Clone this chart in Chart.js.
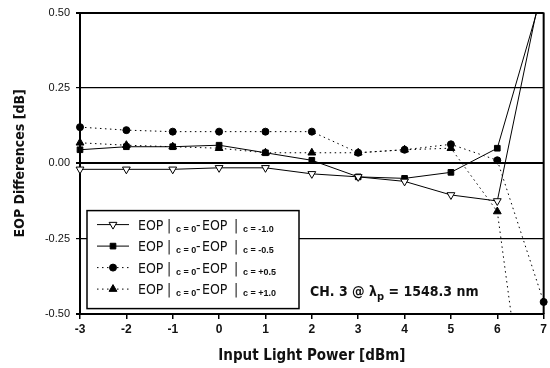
<!DOCTYPE html>
<html>
<head>
<meta charset="utf-8">
<script src="https://cdn.jsdelivr.net/npm/chart.js@4.4.0/dist/chart.umd.min.js"></script>
<style>
  html, body { margin: 0; padding: 0; background: #fff; }
  #wrap { width: 550px; height: 368px; }
</style>
</head>
<body>
<div id="wrap"><canvas id="eop-chart"></canvas></div>
<script>
// --- data ---
const inputPower = [-3, -2, -1, 0, 1, 2, 3, 4, 5, 6, 7]; // dBm
const cLabels = ['-1.0', '-0.5', '+0.5', '+1.0'];         // chirp of the 2nd term
const eopMinus10 = [-0.02, -0.02, -0.02, -0.015, -0.015, -0.035, -0.045, -0.06, -0.105, -0.125, 0.62];
const eopMinus05 = [0.045, 0.055, 0.055, 0.06, 0.035, 0.01, -0.045, -0.05, -0.03, 0.05, 0.58];
const eopPlus05 = [0.12, 0.11, 0.105, 0.105, 0.105, 0.105, 0.035, 0.045, 0.063, 0.01, -0.46];
const eopPlus10 = [0.068, 0.06, 0.055, 0.05, 0.035, 0.035, 0.035, 0.045, 0.05, -0.16, -1.3];
const yTickValues = [-0.5, -0.25, 0, 0.25, 0.5];

const FONT_NARROW = '"Liberation Sans Narrow", "DejaVu Sans Condensed", "Liberation Sans", Arial, sans-serif';
const FONT_SANS = '"Liberation Sans", Arial, sans-serif';

function toPoints(values) {
  return inputPower.map((x, i) => ({ x: x, y: values[i] }));
}

// --- legend with subscripts, drawn by hand ---
function drawPiece(ctx, text, x, y, font) {
  ctx.font = font;
  ctx.fillText(text, x, y);
  return x + ctx.measureText(text).width;
}

const framePlugin = {
  id: 'frame',
  beforeDatasetsDraw(chart) {
    const { ctx, chartArea } = chart;
    ctx.save();
    ctx.strokeStyle = '#000';
    ctx.lineWidth = 2;
    ctx.beginPath();
    ctx.moveTo(chartArea.right, chartArea.top);
    ctx.lineTo(chartArea.right, chartArea.bottom);
    ctx.stroke();
    ctx.restore();
  }
};

const legendPlugin = {
  id: 'eopLegend',
  afterDatasetsDraw(chart) {
    const { ctx, chartArea } = chart;
    const bx = chartArea.left + 7, by = chartArea.top + 198, bw = 212, bh = 98;
    ctx.save();
    ctx.fillStyle = '#fff';
    ctx.fillRect(bx, by, bw, bh);
    ctx.strokeStyle = '#000';
    ctx.lineWidth = 1.5;
    ctx.strokeRect(bx, by, bw, bh);

    const mainFont = '14px ' + FONT_NARROW;
    const subFont = 'bold 9px ' + FONT_SANS;
    chart.data.datasets.forEach((ds, i) => {
      const y = by + 14 + i * 21.5;
      ctx.strokeStyle = '#000';
      ctx.lineWidth = 1;
      ctx.setLineDash(ds.borderDash || []);
      ctx.beginPath();
      ctx.moveTo(bx + 10, y);
      ctx.lineTo(bx + 42, y);
      ctx.stroke();
      ctx.setLineDash([]);
      ctx.fillStyle = ds.pointBackgroundColor;
      Chart.helpers.drawPoint(ctx, {
        pointStyle: ds.pointStyle,
        radius: ds.pointRadius,
        rotation: ds.pointRotation || 0,
        borderWidth: 1
      }, bx + 26, y);

      ctx.fillStyle = '#111';
      ctx.textBaseline = 'alphabetic';
      ctx.textAlign = 'left';
      const base = y + 5;
      drawPiece(ctx, 'EOP', bx + 51, base, mainFont);
      drawPiece(ctx, '|', bx + 80, base, mainFont);
      drawPiece(ctx, 'c = 0', bx + 89, base + 2, subFont);
      drawPiece(ctx, '-', bx + 109, base, mainFont);
      drawPiece(ctx, 'EOP', bx + 115, base, mainFont);
      drawPiece(ctx, '|', bx + 147, base, mainFont);
      drawPiece(ctx, 'c = ' + cLabels[i], bx + 156, base + 2, subFont);
    });

    // annotation
    ctx.fillStyle = '#111';
    ctx.textBaseline = 'middle';
    let x = chartArea.left + 230;
    const y = chartArea.top + 280;
    x = drawPiece(ctx, 'CH. 3 @ \u03bb', x, y, 'bold 14px ' + FONT_NARROW);
    x = drawPiece(ctx, 'p', x, y + 5, 'bold 11px ' + FONT_NARROW);
    drawPiece(ctx, ' = 1548.3 nm', x, y, 'bold 14px ' + FONT_NARROW);
    ctx.restore();
  }
};

// --- chart ---
const ctx = document.getElementById('eop-chart').getContext('2d');
const commonLine = { borderColor: '#000', borderWidth: 1, tension: 0, clip: { left: 6, top: 0, right: 6, bottom: 0 } };

new Chart(ctx, {
  type: 'line',
  data: {
    datasets: [
      { ...commonLine, label: 'c=-1.0', data: toPoints(eopMinus10),
        pointStyle: 'triangle', pointRotation: 180, pointRadius: 4.5,
        pointBackgroundColor: '#fff', pointBorderColor: '#000', pointBorderWidth: 1 },
      { ...commonLine, label: 'c=-0.5', data: toPoints(eopMinus05),
        pointStyle: 'rect', pointRadius: 4,
        pointBackgroundColor: '#000', pointBorderColor: '#000', pointBorderWidth: 1 },
      { ...commonLine, label: 'c=+0.5', data: toPoints(eopPlus05), borderDash: [1.5, 3.5],
        pointStyle: 'circle', pointRadius: 3.5,
        pointBackgroundColor: '#000', pointBorderColor: '#000', pointBorderWidth: 1 },
      { ...commonLine, label: 'c=+1.0', data: toPoints(eopPlus10), borderDash: [1.5, 3.5],
        pointStyle: 'triangle', pointRadius: 4.5,
        pointBackgroundColor: '#000', pointBorderColor: '#000', pointBorderWidth: 1 }
    ]
  },
  options: {
    responsive: true,
    maintainAspectRatio: false,
    animation: false,
    layout: { padding: { top: 12, right: 4, left: 0, bottom: 0 } },
    plugins: { legend: { display: false }, tooltip: { enabled: false } },
    scales: {
      x: {
        type: 'linear',
        min: -3, max: 7,
        ticks: { stepSize: 1, color: '#111', padding: 3, font: { family: FONT_SANS, size: 12, weight: 'bold' } },
        grid: { drawOnChartArea: false, drawTicks: true, tickLength: 5, color: '#000', lineWidth: 1.5 },
        border: { display: true, color: '#000', width: 2 },
        title: { display: true, text: 'Input Light Power [dBm]', color: '#111',
                 font: { family: FONT_NARROW, size: 15, weight: 'bold' }, padding: { top: 0, bottom: 3 } },
        afterFit: scale => { scale.height = 54; }
      },
      y: {
        min: -0.5, max: 0.5,
        afterBuildTicks: scale => { scale.ticks = yTickValues.map(v => ({ value: v })); },
        ticks: { color: '#111', padding: 6, font: { family: FONT_SANS, size: 11 },
                 callback: v => v.toFixed(2) },
        grid: { color: '#000', tickLength: 4,
                lineWidth: c => (c.tick && c.tick.value === 0) ? 2 : (Math.abs(c.tick ? c.tick.value : 0) === 0.5 ? 2 : 1.2) },
        border: { display: true, color: '#000', width: 2 },
        title: { display: true, text: 'EOP Differences [dB]', color: '#111',
                 font: { family: FONT_NARROW, size: 14, weight: 'bold' }, padding: { top: 12, bottom: 0 } },
        afterFit: scale => { scale.width = 80; }
      }
    }
  },
  plugins: [framePlugin, legendPlugin]
});
</script>
</body>
</html>
